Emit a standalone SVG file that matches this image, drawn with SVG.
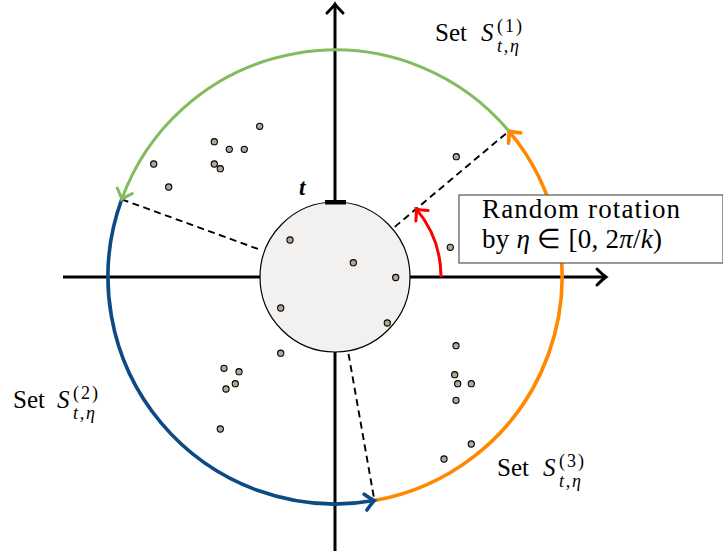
<svg xmlns="http://www.w3.org/2000/svg" width="723" height="554" viewBox="0 0 723 554">
<defs>
<style>
.axis{stroke:#000;stroke-width:3;fill:none}
.dash{stroke:#000;stroke-width:1.9;fill:none;stroke-dasharray:7 4.5}
.dot{fill:#b4a895;stroke:#000;stroke-width:1.1}
.lbl{font-family:"Liberation Serif","Times New Roman",serif;fill:#000}
.it{font-style:italic}
</style>
<marker id="ah-k" markerUnits="userSpaceOnUse" markerWidth="24" markerHeight="24" refX="0" refY="0" viewBox="-12 -12 24 24" orient="auto" overflow="visible">
<path d="M-9 -8 Q-3 -2 0 0 Q-3 2 -9 8" fill="none" stroke="#000" stroke-width="3" stroke-linecap="round"/>
</marker>
<marker id="ah-g" markerUnits="userSpaceOnUse" markerWidth="24" markerHeight="24" refX="0" refY="0" viewBox="-12 -12 24 24" orient="auto" overflow="visible">
<path d="M-9 -8 Q-3 -2 0 0 Q-3 2 -9 8" fill="none" stroke="#82bc5e" stroke-width="3" stroke-linecap="round"/>
</marker>
<marker id="ah-b" markerUnits="userSpaceOnUse" markerWidth="24" markerHeight="24" refX="0" refY="0" viewBox="-12 -12 24 24" orient="auto" overflow="visible">
<path d="M-9 -8 Q-3 -2 0 0 Q-3 2 -9 8" fill="none" stroke="#0d4a85" stroke-width="3.6" stroke-linecap="round"/>
</marker>
<marker id="ah-o" markerUnits="userSpaceOnUse" markerWidth="24" markerHeight="24" refX="0" refY="0" viewBox="-12 -12 24 24" orient="auto" overflow="visible">
<path d="M-9 -8 Q-3 -2 0 0 Q-3 2 -9 8" fill="none" stroke="#ff8800" stroke-width="3.6" stroke-linecap="round"/>
</marker>
<marker id="ah-r" markerUnits="userSpaceOnUse" markerWidth="24" markerHeight="24" refX="0" refY="0" viewBox="-12 -12 24 24" orient="auto" overflow="visible">
<path d="M-9 -8 Q-3 -2 0 0 Q-3 2 -9 8" fill="none" stroke="#ff0000" stroke-width="3" stroke-linecap="round"/>
</marker>
</defs>
<rect width="723" height="554" fill="#fff"/>

<g id="connectors">
<line class="axis" x1="63" y1="277" x2="606" y2="277" marker-end="url(#ah-k)"/>
<line class="axis" x1="335" y1="551" x2="335" y2="4" marker-end="url(#ah-k)"/>
<line class="dash" x1="394.75" y1="226.86" x2="508.89" y2="131.09"/>
<line class="dash" x1="121.69" y1="199.36" x2="261.7" y2="250.3"/>
<line class="dash" x1="348.5" y1="353.8" x2="374.42" y2="500.55"/>
<path d="M374.42 500.55 A227 227 0 0 0 508.89 131.09" fill="none" stroke="#ff8800" stroke-width="3.6" marker-end="url(#ah-o)"/>
<path d="M121.69 199.36 A227 227 0 0 0 374.42 500.55" fill="none" stroke="#0d4a85" stroke-width="3.6" marker-end="url(#ah-b)"/>
<path d="M508.89 131.09 A227 227 0 0 0 121.69 199.36" fill="none" stroke="#82bc5e" stroke-width="3" marker-end="url(#ah-g)"/>
<path d="M441 277 A106 106 0 0 0 416.2 208.86" fill="none" stroke="#ff0000" stroke-width="3" marker-end="url(#ah-r)"/>
</g>

<g id="inner-circle">
<circle cx="335" cy="277" r="75" fill="#f2f1ef" stroke="#000" stroke-width="1.2"/>
<rect x="325" y="200" width="21" height="4.5" fill="#000"/>
<text class="lbl" x="299" y="195" font-size="23" font-weight="bold" font-style="italic">t</text>
</g>

<g id="points">
<circle class="dot" cx="259.7" cy="126.3" r="3.1"/>
<circle class="dot" cx="214.3" cy="141.7" r="3.1"/>
<circle class="dot" cx="229.3" cy="149.3" r="3.1"/>
<circle class="dot" cx="244.3" cy="149.3" r="3.1"/>
<circle class="dot" cx="153.7" cy="164" r="3.1"/>
<circle class="dot" cx="214.3" cy="164" r="3.1"/>
<circle class="dot" cx="220.3" cy="168.7" r="3.1"/>
<circle class="dot" cx="168.7" cy="187" r="3.1"/>
<circle class="dot" cx="456.3" cy="156.7" r="3.1"/>
<circle class="dot" cx="450.3" cy="247.3" r="3.1"/>
<circle class="dot" cx="290" cy="240" r="3.1"/>
<circle class="dot" cx="353.3" cy="262.7" r="3.1"/>
<circle class="dot" cx="395.7" cy="277.5" r="3.1"/>
<circle class="dot" cx="280.7" cy="308" r="3.1"/>
<circle class="dot" cx="387.3" cy="323" r="3.1"/>
<circle class="dot" cx="280.7" cy="353.2" r="3.1"/>
<circle class="dot" cx="224" cy="368.3" r="3.1"/>
<circle class="dot" cx="239" cy="371.7" r="3.1"/>
<circle class="dot" cx="235.3" cy="383.7" r="3.1"/>
<circle class="dot" cx="226" cy="389" r="3.1"/>
<circle class="dot" cx="220.3" cy="429" r="3.1"/>
<circle class="dot" cx="456" cy="345.7" r="3.1"/>
<circle class="dot" cx="454.7" cy="374.7" r="3.1"/>
<circle class="dot" cx="457.7" cy="383.7" r="3.1"/>
<circle class="dot" cx="471.3" cy="383.7" r="3.1"/>
<circle class="dot" cx="456" cy="400.3" r="3.1"/>
<circle class="dot" cx="471.3" cy="444" r="3.1"/>
<circle class="dot" cx="444" cy="459" r="3.1"/>
</g>

<g id="rotation-box">
<rect x="459" y="195" width="264" height="68" fill="#fff" stroke="#555" stroke-width="1.2"/>
<text class="lbl" x="482" y="218" font-size="27" textLength="198" lengthAdjust="spacing">Random rotation</text>
<text class="lbl" x="482" y="248" font-size="27" textLength="180" lengthAdjust="spacing">by <tspan class="it">η</tspan> ∈ [0, 2<tspan class="it">π</tspan>/<tspan class="it">k</tspan>)</text>
</g>

<g id="set-1">
<text class="lbl" x="435" y="41" font-size="25">Set</text>
<text class="lbl it" x="481" y="41" font-size="25">S</text>
<text class="lbl" x="497" y="32" font-size="18" textLength="25" lengthAdjust="spacing">(1)</text>
<text class="lbl it" x="497" y="52" font-size="18" textLength="22" lengthAdjust="spacing">t,η</text>
</g>

<g id="set-2">
<text class="lbl" x="13" y="408" font-size="25">Set</text>
<text class="lbl it" x="57" y="408" font-size="25">S</text>
<text class="lbl" x="73" y="399" font-size="18" textLength="25" lengthAdjust="spacing">(2)</text>
<text class="lbl it" x="73" y="419" font-size="18" textLength="22" lengthAdjust="spacing">t,η</text>
</g>

<g id="set-3">
<text class="lbl" x="497" y="476" font-size="25">Set</text>
<text class="lbl it" x="543" y="476" font-size="25">S</text>
<text class="lbl" x="559" y="467" font-size="18" textLength="25" lengthAdjust="spacing">(3)</text>
<text class="lbl it" x="559" y="487" font-size="18" textLength="22" lengthAdjust="spacing">t,η</text>
</g>
</svg>
